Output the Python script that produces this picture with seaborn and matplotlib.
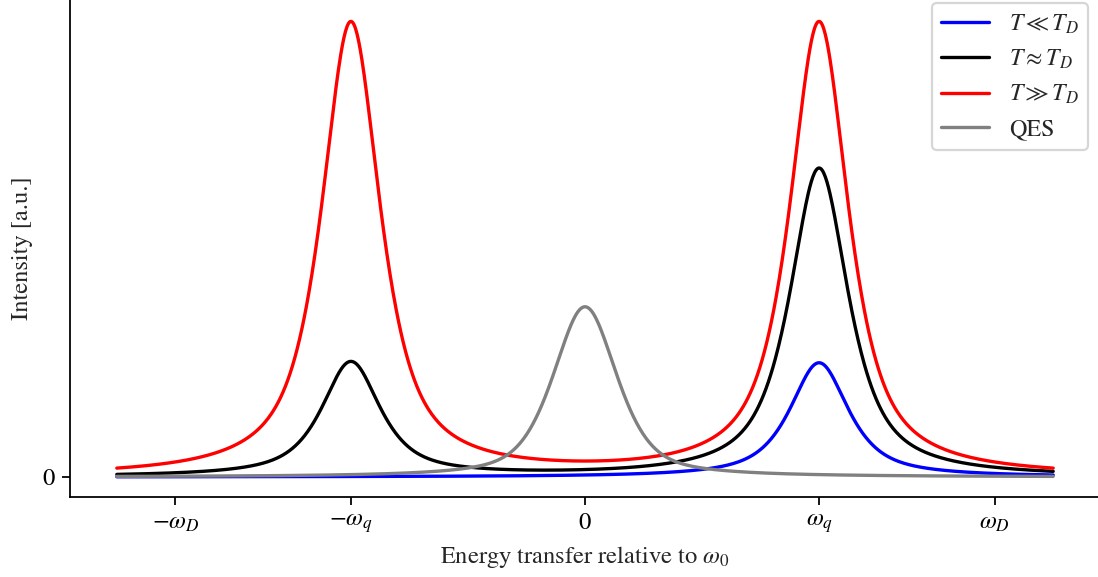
import numpy as np
import pandas as pd
import matplotlib
matplotlib.use("Agg")
import matplotlib.pyplot as plt
import seaborn as sns

# Characteristic frequencies (in units of omega_q)
omega_q = 1.0
omega_D = 1.75

# Peak heights at (-omega_q, +omega_q) for each temperature regime [a.u.]
series_names = [r"$T \ll T_D$", r"$T \approx T_D$", r"$T \gg T_D$"]
series_colors = ["#0000ff", "#000000", "#ff0000"]
anti_stokes_heights = [0.0, 1.0, 3.97]
stokes_heights = [1.0, 2.7, 3.97]

# Phonon line shape: half width at half maximum and Lorentzian fraction
phonon_hwhm = 0.15
phonon_eta = 0.8

# Quasi-elastic line centred at zero energy transfer
qes_name = "QES"
qes_color = "#808080"
qes_height = 1.49
qes_hwhm = 0.162
qes_eta = 0.55

tick_positions = [-omega_D, -omega_q, 0.0, omega_q, omega_D]
tick_labels = [r"$-\omega_D$", r"$-\omega_q$", "0", r"$\omega_q$", r"$\omega_D$"]


def pseudo_voigt(x, center, height, hwhm, eta):
    u = (x - center) / hwhm
    lor = 1.0 / (1.0 + u ** 2)
    gau = np.exp(-np.log(2.0) * u ** 2)
    return height * (eta * lor + (1.0 - eta) * gau)


energy = np.linspace(-2.0, 2.0, 1201)

frames = []
for name, a_s, s in zip(series_names, anti_stokes_heights, stokes_heights):
    y = (pseudo_voigt(energy, -omega_q, a_s, phonon_hwhm, phonon_eta)
         + pseudo_voigt(energy, omega_q, s, phonon_hwhm, phonon_eta))
    frames.append(pd.DataFrame({"energy": energy, "intensity": y, "series": name}))
frames.append(pd.DataFrame({
    "energy": energy,
    "intensity": pseudo_voigt(energy, 0.0, qes_height, qes_hwhm, qes_eta),
    "series": qes_name,
}))
df = pd.concat(frames, ignore_index=True)

sns.set_style("ticks")
plt.rcParams["font.family"] = ["STIXGeneral", "DejaVu Serif"]
plt.rcParams["mathtext.fontset"] = "stix"
plt.rcParams["font.size"] = 11

dpi = 160
fig = plt.figure(figsize=(1098 / dpi, 577 / dpi), dpi=dpi)
ax = fig.add_axes([70 / 1098, 80 / 577, 1030 / 1098, 497 / 577])

order = series_names + [qes_name]
palette = dict(zip(order, series_colors + [qes_color]))
sns.lineplot(data=df, x="energy", y="intensity", hue="series",
             hue_order=order, palette=palette, linewidth=1.5,
             estimator=None, errorbar=None, ax=ax)

ax.set_xlim(-2.2, 2.2)
ax.set_ylim(-0.175, 4.175)
ax.set_xticks(tick_positions)
ax.set_xticklabels(tick_labels)
ax.set_yticks([0])
ax.set_yticklabels(["0"])
ax.tick_params(axis="both", labelsize=11, length=3.5, width=0.8, colors="black")
ax.set_xlabel(r"Energy transfer relative to $\omega_0$", fontsize=11)
ax.set_ylabel("Intensity [a.u.]", fontsize=11)
for side in ("top", "right"):
    ax.spines[side].set_visible(False)
for side in ("left", "bottom"):
    ax.spines[side].set_linewidth(0.8)
    ax.spines[side].set_color("black")

leg = ax.legend(loc="upper right", fontsize=10.8, frameon=True, fancybox=True,
                framealpha=0.8, edgecolor="#cccccc", title=None,
                bbox_to_anchor=(1088 / 1098, 1 - 3 / 577),
                bbox_transform=fig.transFigure, borderaxespad=0)

fig.savefig("out.png", dpi=dpi)
